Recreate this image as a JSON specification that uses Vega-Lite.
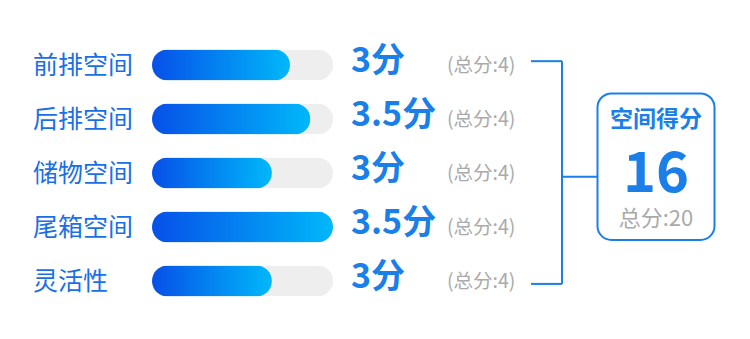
{
  "$schema": "https://vega.github.io/schema/vega-lite/v6.json",
  "width": 750,
  "height": 339,
  "autosize": {"type": "fit", "contains": "padding"},
  "padding": 0,
  "background": "white",
  "config": {"view": {"stroke": null}, "font": "Noto Sans CJK SC"},
  "datasets": {
    "rows": [
      {"row": 1, "item": "前排空间", "score": 3, "valueText": "3分", "bar": 3.05, "max": 4, "totalText": "(总分:4)"},
      {"row": 2, "item": "后排空间", "score": 3.5, "valueText": "3.5分", "bar": 3.5, "max": 4, "totalText": "(总分:4)"},
      {"row": 3, "item": "储物空间", "score": 3, "valueText": "3分", "bar": 2.65, "max": 4, "totalText": "(总分:4)"},
      {"row": 4, "item": "尾箱空间", "score": 3.5, "valueText": "3.5分", "bar": 4, "max": 4, "totalText": "(总分:4)"},
      {"row": 5, "item": "灵活性", "score": 3, "valueText": "3分", "bar": 2.65, "max": 4, "totalText": "(总分:4)"}
    ],
    "summary": [
      {"title": "空间得分", "score": 16, "totalText": "总分:20"}
    ]
  },
  "data": {"name": "rows"},
  "layer": [
    {
      "mark": {"type": "bar", "orient": "horizontal", "size": 31, "cornerRadius": 15.5, "color": "#eeeeee"},
      "encoding": {
        "x": {"field": "max", "type": "quantitative", "scale": {"domain": [0, 4], "range": [152, 333], "zero": false, "nice": false}, "axis": null},
        "y": {"field": "row", "type": "quantitative", "scale": {"domain": [0.5, 5.5], "range": [33, 313], "zero": false, "nice": false}, "axis": null}
      }
    },
    {
      "mark": {"type": "bar", "orient": "horizontal", "size": 31, "cornerRadius": 15.5,
        "color": {"gradient": "linear", "x1": 0, "y1": 0, "x2": 1, "y2": 0,
          "stops": [{"offset": 0, "color": "#0750e8"}, {"offset": 1, "color": "#00b8fa"}]}},
      "encoding": {
        "x": {"field": "bar", "type": "quantitative"},
        "y": {"field": "row", "type": "quantitative"}
      }
    },
    {
      "mark": {"type": "text", "align": "left", "baseline": "alphabetic", "dy": 9, "fontSize": 25, "color": "#1a6fe6"},
      "encoding": {"x": {"datum": -2.63, "type": "quantitative"}, "y": {"field": "row", "type": "quantitative"}, "text": {"field": "item"}}
    },
    {
      "mark": {"type": "text", "align": "left", "baseline": "alphabetic", "dy": 7, "fontSize": 34, "fontWeight": "bold", "color": "#1a7fe8"},
      "encoding": {"x": {"datum": 4.398, "type": "quantitative"}, "y": {"field": "row", "type": "quantitative"}, "text": {"field": "valueText"}}
    },
    {
      "mark": {"type": "text", "align": "left", "baseline": "alphabetic", "dy": 7, "fontSize": 19.5, "color": "#aaaaaa"},
      "encoding": {"x": {"datum": 6.519, "type": "quantitative"}, "y": {"field": "row", "type": "quantitative"}, "text": {"field": "totalText"}}
    },
    {
      "data": {"name": "summary"},
      "mark": {"type": "rule", "color": "#1a7fe8", "strokeWidth": 2},
      "encoding": {"x": {"datum": 9.061, "type": "quantitative"}, "y": {"datum": 0.929, "type": "quantitative"}, "y2": {"datum": 5.054}}
    },
    {
      "data": {"name": "summary"},
      "mark": {"type": "rule", "color": "#1a7fe8", "strokeWidth": 2},
      "encoding": {"x": {"datum": 8.376, "type": "quantitative"}, "x2": {"datum": 9.061}, "y": {"datum": 0.929, "type": "quantitative"}}
    },
    {
      "data": {"name": "summary"},
      "mark": {"type": "rule", "color": "#1a7fe8", "strokeWidth": 2},
      "encoding": {"x": {"datum": 8.376, "type": "quantitative"}, "x2": {"datum": 9.061}, "y": {"datum": 5.054, "type": "quantitative"}}
    },
    {
      "data": {"name": "summary"},
      "mark": {"type": "rule", "color": "#1a7fe8", "strokeWidth": 2},
      "encoding": {"x": {"datum": 9.061, "type": "quantitative"}, "x2": {"datum": 9.834}, "y": {"datum": 3.071, "type": "quantitative"}}
    },
    {
      "data": {"name": "summary"},
      "mark": {"type": "rect", "cornerRadius": 14, "fill": "white", "stroke": "#1a7fe8", "strokeWidth": 2},
      "encoding": {"x": {"datum": 9.845, "type": "quantitative"}, "x2": {"datum": 12.431}, "y": {"datum": 1.527, "type": "quantitative"}, "y2": {"datum": 4.241}}
    },
    {
      "data": {"name": "summary"},
      "mark": {"type": "text", "align": "center", "baseline": "alphabetic", "fontSize": 23, "fontWeight": "bold", "color": "#1a7fe8"},
      "encoding": {"x": {"datum": 11.138, "type": "quantitative"}, "y": {"datum": 2.143, "type": "quantitative"}, "text": {"field": "title"}}
    },
    {
      "data": {"name": "summary"},
      "mark": {"type": "text", "align": "center", "baseline": "alphabetic", "fontSize": 56, "fontWeight": "bold", "color": "#1a7fe8"},
      "encoding": {"x": {"datum": 11.138, "type": "quantitative"}, "y": {"datum": 3.357, "type": "quantitative"}, "text": {"field": "score"}}
    },
    {
      "data": {"name": "summary"},
      "mark": {"type": "text", "align": "center", "baseline": "alphabetic", "fontSize": 22, "color": "#aaaaaa"},
      "encoding": {"x": {"datum": 11.138, "type": "quantitative"}, "y": {"datum": 3.982, "type": "quantitative"}, "text": {"field": "totalText"}}
    }
  ]
}
